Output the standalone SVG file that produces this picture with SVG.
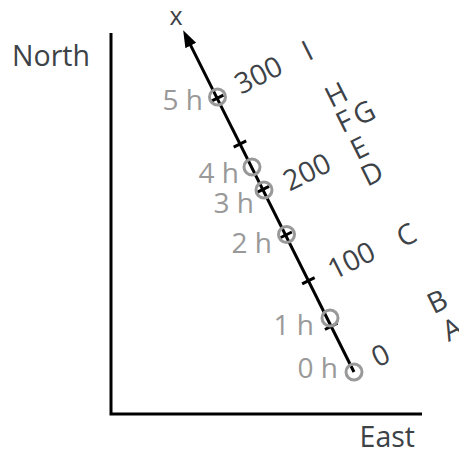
<svg xmlns="http://www.w3.org/2000/svg" width="459" height="453" viewBox="0 0 459 453">
<style>
.ax{stroke:#000;stroke-width:3;fill:none}
.tick{stroke:#000;stroke-width:3}
.hr{fill:none;stroke:#999;stroke-width:3}
.dark{font-family:"Open Sans","Liberation Sans",sans-serif;font-size:28.5px;fill:#3d4247}
.gray{font-family:"Open Sans","Liberation Sans",sans-serif;font-size:28px;fill:#999;text-anchor:end}
.mid{text-anchor:middle}
</style>
<defs>
<marker id="arr" markerUnits="userSpaceOnUse" markerWidth="20" markerHeight="14" viewBox="0 -7 20 14" refX="3" refY="0" orient="auto">
<path d="M0,-6 L17,0 L0,6 z" fill="#000"/>
</marker>
</defs>
<g id="axes">
<path class="ax" d="M111,33 V414 H422"/>
<text class="dark" x="90" y="66" text-anchor="end">North</text>
<text class="dark" x="415" y="447" text-anchor="end">East</text>
</g>
<g id="connectors" transform="translate(354,372) rotate(-26.565)">
<line class="ax" x1="0" y1="0" x2="0" y2="-368" marker-end="url(#arr)"/>
<g class="tick">
<line x1="-7" y1="-51" x2="7" y2="-51"/>
<line x1="-7" y1="-102" x2="7" y2="-102"/>
<line x1="-7" y1="-153" x2="7" y2="-153"/>
<line x1="-7" y1="-204" x2="7" y2="-204"/>
<line x1="-7" y1="-255" x2="7" y2="-255"/>
<line x1="-7" y1="-306" x2="7" y2="-306"/>
</g>
</g>
<g id="scale" transform="translate(354,372) rotate(-26.565)">
<text class="dark" x="23" y="7">0</text>
<text class="dark" x="23" y="-91">100</text>
<text class="dark" x="23" y="-190">200</text>
<text class="dark" x="23" y="-298.5">300</text>
</g>
<g id="x-label"><text class="dark mid" x="176" y="25" style="font-size:25px">x</text></g>
<g id="hours">
<g id="h0"><circle class="hr" cx="354" cy="372" r="8"/><text class="gray" x="338" y="378">0 h</text></g>
<g id="h1"><circle class="hr" cx="330" cy="318" r="8"/><text class="gray" x="314" y="335">1 h</text></g>
<g id="h2"><circle class="hr" cx="286.5" cy="234.5" r="8"/><text class="gray" x="272" y="253">2 h</text></g>
<g id="h3"><circle class="hr" cx="264" cy="190" r="8"/><text class="gray" x="254" y="213">3 h</text></g>
<g id="h4"><circle class="hr" cx="252" cy="167" r="8"/><text class="gray" x="239" y="183">4 h</text></g>
<g id="h5"><circle class="hr" cx="217.5" cy="97" r="8"/><text class="gray" x="203" y="110">5 h</text></g>
</g>
<g id="letters" transform="translate(354,372) rotate(-26.565)">
<g id="A"><text class="dark mid" x="107" y="15.5">A</text></g>
<g id="B"><text class="dark mid" x="106" y="-16">B</text></g>
<g id="C"><text class="dark mid" x="108" y="-89">C</text></g>
<g id="D"><text class="dark mid" x="105" y="-159.5">D</text></g>
<g id="E"><text class="dark mid" x="105" y="-188">E</text></g>
<g id="F"><text class="dark mid" x="103.5" y="-218.5">F</text></g>
<g id="G"><text class="dark mid" x="125" y="-217.5">G</text></g>
<g id="H"><text class="dark mid" x="108" y="-246">H</text></g>
<g id="I"><text class="dark mid" x="102" y="-298.5">I</text></g>
</g>
</svg>
